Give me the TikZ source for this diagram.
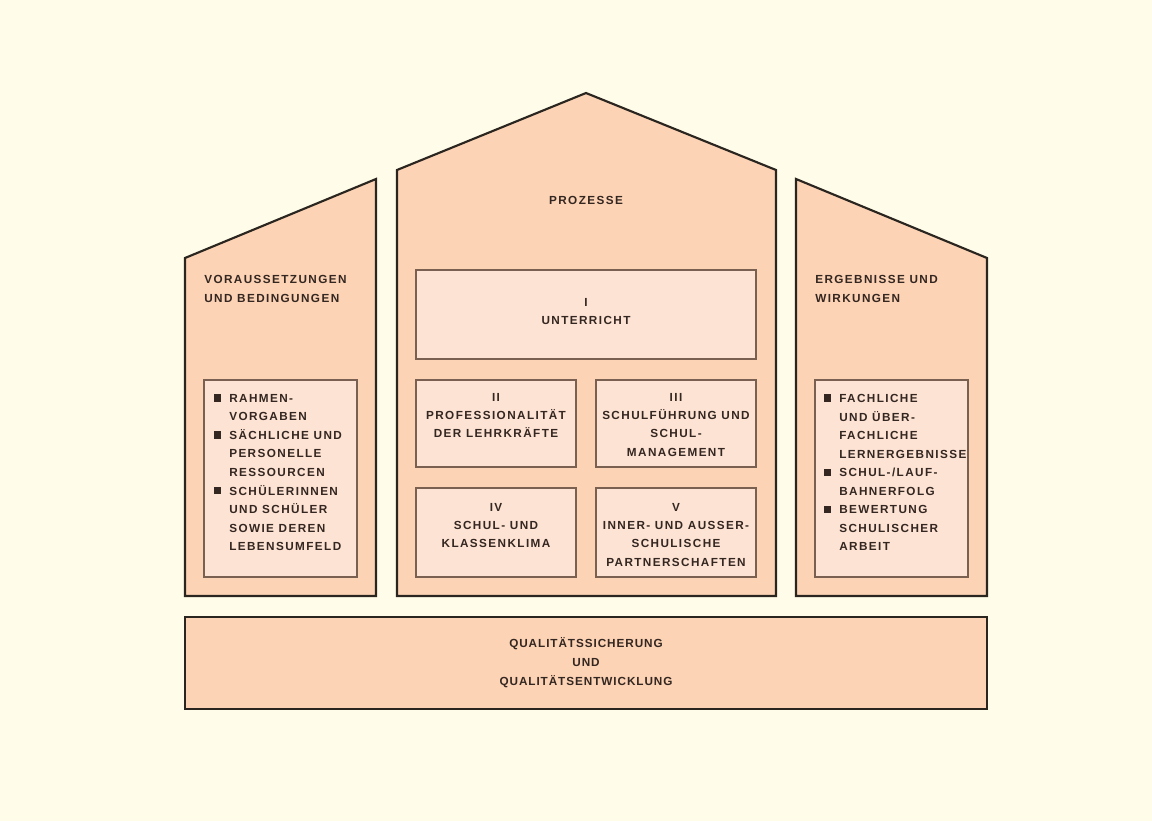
\documentclass[tikz,border=0pt]{standalone}
\usepackage{fontspec}
\setmainfont{Liberation Sans}
\newfontfamily\labfont{Liberation Sans}[LetterSpace=12]
\newfontfamily\botfont{Liberation Sans}[LetterSpace=8]
\definecolor{bgcol}{RGB}{255,253,233}
\definecolor{peach}{RGB}{252,211,181}
\definecolor{inner}{RGB}{253,227,212}
\definecolor{edge}{RGB}{43,37,32}
\definecolor{iedge}{RGB}{122,96,80}
\definecolor{txt}{RGB}{52,38,32}
\newcommand{\bsq}{\llap{\rule[0.6pt]{5.4pt}{5.4pt}\hspace{6.4pt}}}
\tikzset{
  house/.style={draw=edge, fill=peach, line width=1.6pt, line join=miter},
  ibox/.style={draw=iedge, fill=inner, line width=0.8pt},
  lab/.style={text=txt, inner sep=0pt, font=\labfont\bfseries\fontsize{8.8}{13.7}\selectfont},
  head/.style={lab, align=left, anchor=north west, font=\labfont\bfseries\fontsize{8.8}{14.3}\selectfont},
  boxlab/.style={lab, align=center, anchor=north},
  listlab/.style={lab, align=left, anchor=north west, font=\labfont\bfseries\fontsize{8.8}{13.9}\selectfont},
  botlab/.style={text=txt, inner sep=0pt, align=center, font=\botfont\bfseries\fontsize{8.8}{14.3}\selectfont}
}
\begin{document}
\begin{tikzpicture}[x=0.75pt,y=-0.75pt]
\fill[bgcol] (0,0) rectangle (1152,821);
\useasboundingbox (0,0) rectangle (1152,821);

% three building parts
\draw[house] (185,596) -- (185,258) -- (376,179) -- (376,596) -- cycle;
\draw[house] (397,596) -- (397,170) -- (586,93) -- (776,170) -- (776,596) -- cycle;
\draw[house] (796,596) -- (796,179) -- (987,258) -- (987,596) -- cycle;
% foundation
\draw[house] (185,617) rectangle (987,709);

% inner boxes
\draw[ibox] (204,380) rectangle (357,577);
\draw[ibox] (815,380) rectangle (968,577);
\draw[ibox] (416,270) rectangle (756,359);
\draw[ibox] (416,380) rectangle (576,467);
\draw[ibox] (596,380) rectangle (756,467);
\draw[ibox] (416,488) rectangle (576,577);
\draw[ibox] (596,488) rectangle (756,577);

% headings
\node[head] (hleft) at (204,275) {VORAUSSETZUNGEN\\UND BEDINGUNGEN};
\node[head] (hright) at (815,275) {ERGEBNISSE UND\\WIRKUNGEN};
\node[boxlab] (hmid) at (586,196) {PROZESSE};

% process boxes
\node[boxlab] (p1) at (586,298) {I\\UNTERRICHT};
\node[boxlab] (p2) at (496,393) {II\\PROFESSIONALITÄT\\DER LEHRKRÄFTE};
\node[boxlab] (p3) at (676,393) {III\\SCHULFÜHRUNG UND\\SCHUL-\\MANAGEMENT};
\node[boxlab] (p4) at (496,503) {IV\\SCHUL- UND\\KLASSENKLIMA};
\node[boxlab] (p5) at (676,503) {V\\INNER- UND AUSSER-\\SCHULISCHE\\PARTNERSCHAFTEN};

% lists
\node[listlab] (lleft) at (229,394) {\bsq RAHMEN-\\VORGABEN\\\bsq SÄCHLICHE UND\\PERSONELLE\\RESSOURCEN\\\bsq SCHÜLERINNEN\\UND SCHÜLER\\SOWIE DEREN\\LEBENSUMFELD};
\node[listlab] (lright) at (839,394) {\bsq FACHLICHE\\UND ÜBER-\\FACHLICHE\\LERNERGEBNISSE\\\bsq SCHUL-/LAUF-\\BAHNERFOLG\\\bsq BEWERTUNG\\SCHULISCHER\\ARBEIT};

% foundation text
\node[botlab] (qual) at (586,663) {QUALITÄTSSICHERUNG\\UND\\QUALITÄTSENTWICKLUNG};
\end{tikzpicture}
\end{document}
